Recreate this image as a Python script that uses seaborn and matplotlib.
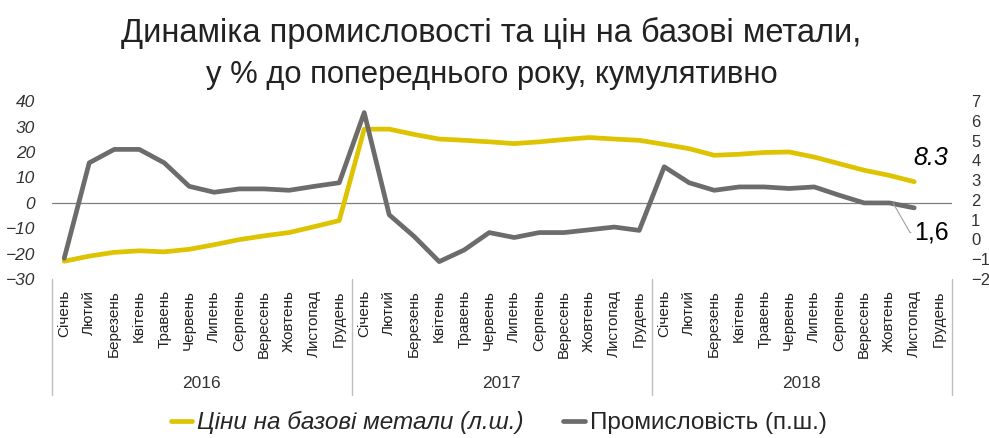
import numpy as np
import pandas as pd
import matplotlib.pyplot as plt
import matplotlib.transforms as mtransforms
from matplotlib.lines import Line2D
import seaborn as sns

# data
months = ['Січень', 'Лютий', 'Березень', 'Квітень', 'Травень', 'Червень',
          'Липень', 'Серпень', 'Вересень', 'Жовтень', 'Листопад', 'Грудень']
years = ['2016', '2017', '2018']

metals = [-23, -21, -19.5, -18.9, -19.3, -18.3, -16.5, -14.5, -13, -11.7, -9.4, -7,
          29, 29, 26.9, 25.1, 24.6, 24, 23.3, 24, 24.9, 25.7, 25.1, 24.6,
          23, 21.3, 18.7, 19.1, 19.8, 20, 18, 15.4, 12.8, 10.8, 8.3, np.nan]
industry = [-0.95, 3.88, 4.56, 4.56, 3.88, 2.69, 2.39, 2.56, 2.56, 2.49, 2.69, 2.87,
            6.42, 1.25, 0.15, -1.12, -0.53, 0.35, 0.10, 0.35, 0.35, 0.49, 0.63, 0.46,
            3.68, 2.87, 2.49, 2.66, 2.66, 2.58, 2.66, 2.24, 1.85, 1.85, 1.6, np.nan]

yellow = '#DEC300'
gray = '#6D6C6A'

df = pd.DataFrame({'idx': np.arange(36), 'metals': metals, 'industry': industry})

sns.set_style('white')
plt.rcParams['font.family'] = ['Liberation Sans', 'DejaVu Sans']

fig = plt.figure(figsize=(9.89, 4.38), dpi=100)
ax = fig.add_axes([0.0523, 0.363, 0.910, 0.406])
ax2 = ax.twinx()

sns.lineplot(data=df, x='idx', y='metals', ax=ax, color=yellow, linewidth=3.4, zorder=3)
sns.lineplot(data=df, x='idx', y='industry', ax=ax2, color=gray, linewidth=3.4, zorder=3)

ax.set_xlim(-0.5, 35.5)
ax.set_ylim(-30, 40)
ax.set_yticks(np.arange(-30, 41, 10))
ax2.set_ylim(-2, 7)
ax2.set_yticks(np.arange(-2, 8, 1))
ax.axhline(0, color='#7f7f7f', linewidth=0.9, zorder=1)

for a in (ax, ax2):
    for s in a.spines.values():
        s.set_visible(False)
    a.set_xlabel('')
    a.set_ylabel('')
ax.tick_params(axis='y', length=0, labelsize=12.5, labelcolor='#333333', pad=12)
for lbl in ax.get_yticklabels():
    lbl.set_fontstyle('italic')
ax2.tick_params(axis='y', length=0, labelsize=12, labelcolor='#333333', pad=14)

ax.set_xticks(np.arange(36))
ax.set_xticklabels(months * 3, rotation=90, fontsize=11, color='#222222')
ax.tick_params(axis='x', length=0, pad=8)

# year separators and labels
trans = mtransforms.blended_transform_factory(ax.transData, ax.transAxes)
for k in range(4):
    ax.add_line(Line2D([k * 12 - 0.5] * 2, [0, -0.65], transform=trans,
                       color='#bfbfbf', linewidth=1, clip_on=False))
for k, y in enumerate(years):
    ax.text(k * 12 + 5.5, -0.59, y, transform=trans, ha='center', va='center',
            fontsize=12.5, color='#333333')

# end-value labels
ax.text(33.95, 17.5, '8.3', fontsize=18, fontstyle='italic', color='black',
        ha='left', va='center')
ax2.annotate('1,6', xy=(33.15, 1.85), xytext=(34.0, 0.35), fontsize=18,
             color='black', ha='left', va='center',
             arrowprops=dict(arrowstyle='-', color='#a0a0a0', linewidth=0.8,
                             shrinkA=0, shrinkB=0, relpos=(0, 0.5),
                             connectionstyle='angle,angleA=0,angleB=-60,rad=0'))

fig.text(0.497, 0.925, 'Динаміка промисловості та цін на базові метали,',
         ha='center', va='center', fontsize=23.5, color='#222222')
fig.text(0.497, 0.828, 'у % до попереднього року, кумулятивно',
         ha='center', va='center', fontsize=22.3, color='#222222')

handles = [Line2D([0], [0], color=yellow, linewidth=3.4),
           Line2D([0], [0], color=gray, linewidth=3.4)]
leg = fig.legend(handles, ['Ціни на базові метали (л.ш.)', 'Промисловість (п.ш.)'],
                 loc='center', bbox_to_anchor=(0.504, 0.035), ncol=2, frameon=False,
                 fontsize=17.5, handlelength=0.9, handletextpad=0.2, columnspacing=1.6)
leg.get_texts()[0].set_fontstyle('italic')

fig.savefig('out.png', dpi=100)
